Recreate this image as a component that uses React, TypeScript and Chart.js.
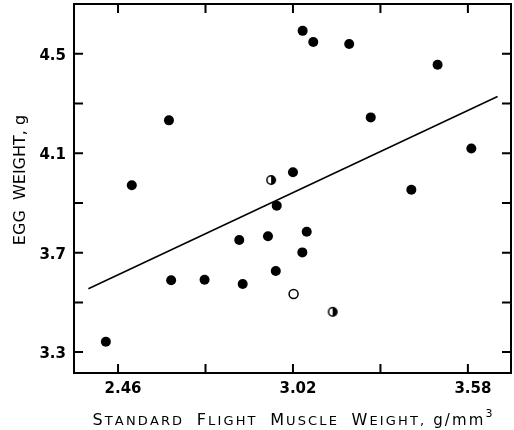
import React, { useEffect, useRef } from 'react';
import { Chart, registerables } from 'chart.js';

Chart.register(...registerables);

// Data
const filledX = [3.051, 3.085, 3.200, 3.483, 2.623, 3.269, 3.591, 2.504, 3.020, 3.399, 2.968, 2.848, 2.940, 3.064, 3.050, 2.965, 2.630, 2.737, 2.859, 2.421];
const filledY = [4.592, 4.547, 4.539, 4.456, 4.232, 4.244, 4.119, 3.971, 4.023, 3.953, 3.889, 3.751, 3.766, 3.784, 3.701, 3.626, 3.589, 3.591, 3.574, 3.342];
const halfX = [2.950, 3.147];
const halfY = [3.992, 3.462];
const openX = [3.022];
const openY = [3.534];
const fitX = [2.365, 3.675];
const fitY = [3.555, 4.328];

const xTicks = [2.46, 2.74, 3.02, 3.30, 3.58];
const xLabeled = [2.46, 3.02, 3.58];
const yTicks = [3.3, 3.5, 3.7, 3.9, 4.1, 4.3, 4.5];
const yLabeled = [3.3, 3.7, 4.1, 4.5];
const xRange = [2.319, 3.718];
const yRange = [3.216, 4.70];

const xTitleCaps = 'Standard  Flight  Muscle  Weight,';
const xTitleUnit = ' g/mm';
const xTitleSup = '3';
const yTitle = 'EGG  WEIGHT, g';

const FONT = '"DejaVu Sans", "Liberation Sans", Arial, sans-serif';

function makeHalf(): HTMLCanvasElement {
  const c = document.createElement('canvas');
  c.width = 12;
  c.height = 12;
  const g = c.getContext('2d')!;
  g.fillStyle = '#000';
  g.beginPath();
  g.arc(6, 6, 4.6, -Math.PI / 2, Math.PI / 2);
  g.closePath();
  g.fill();
  g.lineWidth = 1.5;
  g.strokeStyle = '#000';
  g.beginPath();
  g.arc(6, 6, 4.2, 0, Math.PI * 2);
  g.stroke();
  return c;
}

const framePlugin = {
  id: 'frameAndTitles',
  afterDraw(chart: any) {
    const { ctx, chartArea: a, scales } = chart;
    const xs = scales.x;
    const ys = scales.y;
    ctx.save();
    ctx.strokeStyle = '#000';
    ctx.lineWidth = 2;
    ctx.strokeRect(a.left, a.top, a.right - a.left, a.bottom - a.top);
    const L = 9;
    ctx.beginPath();
    xTicks.forEach((v) => {
      const px = xs.getPixelForValue(v);
      ctx.moveTo(px, a.bottom);
      ctx.lineTo(px, a.bottom - L);
      ctx.moveTo(px, a.top);
      ctx.lineTo(px, a.top + L);
    });
    yTicks.forEach((v) => {
      const py = ys.getPixelForValue(v);
      ctx.moveTo(a.left, py);
      ctx.lineTo(a.left + L, py);
      ctx.moveTo(a.right, py);
      ctx.lineTo(a.right - L, py);
    });
    ctx.stroke();

    // X title with small caps
    ctx.fillStyle = '#000';
    ctx.textBaseline = 'alphabetic';
    ctx.textAlign = 'left';
    const big = `16px ${FONT}`;
    const small = `13px ${FONT}`;
    const unit = `15px ${FONT}`;
    const sup = `11px ${FONT}`;
    type Seg = { ch: string; font: string; dy: number };
    const segs: Seg[] = [];
    for (const ch of xTitleCaps) {
      if (ch >= 'A' && ch <= 'Z') segs.push({ ch, font: big, dy: 0 });
      else segs.push({ ch: ch.toUpperCase(), font: small, dy: 0 });
    }
    for (const ch of xTitleUnit) segs.push({ ch, font: unit, dy: 0 });
    for (const ch of xTitleSup) segs.push({ ch, font: sup, dy: -8 });
    let natural = 0;
    const widths = segs.map((s) => {
      ctx.font = s.font;
      const w = ctx.measureText(s.ch).width;
      natural += w;
      return w;
    });
    const targetW = 400;
    const sp = (targetW - natural) / (segs.length - 1);
    let cx = (a.left + a.right) / 2 - targetW / 2;
    const baseY = 425;
    segs.forEach((s, i) => {
      ctx.font = s.font;
      ctx.fillText(s.ch, cx, baseY + s.dy);
      cx += widths[i] + sp;
    });

    // Y title
    ctx.save();
    ctx.translate(25, 180);
    ctx.rotate(-Math.PI / 2);
    ctx.textAlign = 'center';
    ctx.textBaseline = 'alphabetic';
    ctx.font = `16px ${FONT}`;
    ctx.fillText(yTitle, 0, 0);
    ctx.restore();

    ctx.restore();
  },
};

export default function App() {
  const ref = useRef<HTMLCanvasElement | null>(null);

  useEffect(() => {
    document.body.style.margin = '0';
    const canvas = ref.current!;
    const half = makeHalf();
    const pts = (xs: number[], ys: number[]) => xs.map((x, i) => ({ x, y: ys[i] }));
    const chart = new Chart(canvas, {
      type: 'scatter',
      data: {
        datasets: [
          {
            label: 'fit',
            data: pts(fitX, fitY),
            showLine: true,
            pointRadius: 0,
            borderColor: '#000',
            borderWidth: 1.5,
            backgroundColor: '#000',
          },
          {
            label: 'filled',
            data: pts(filledX, filledY),
            pointRadius: 5,
            pointBackgroundColor: '#000',
            pointBorderWidth: 0,
            pointBorderColor: '#000',
          },
          {
            label: 'half',
            data: pts(halfX, halfY),
            pointStyle: half as any,
            pointRadius: 5,
          },
          {
            label: 'open',
            data: pts(openX, openY),
            pointRadius: 4.5,
            pointBackgroundColor: '#fff',
            pointBorderColor: '#000',
            pointBorderWidth: 1.5,
          },
        ],
      },
      options: {
        animation: false,
        responsive: false,
        devicePixelRatio: 1,
        events: [],
        layout: { autoPadding: false, padding: { top: 4, right: 3, left: 0, bottom: 0 } },
        plugins: { legend: { display: false }, tooltip: { enabled: false } },
        scales: {
          x: {
            type: 'linear',
            min: xRange[0],
            max: xRange[1],
            grid: { display: false, drawTicks: false },
            border: { display: false },
            afterBuildTicks: (s: any) => {
              s.ticks = xLabeled.map((v) => ({ value: v }));
            },
            afterFit: (s: any) => {
              s.height = 57;
              s.paddingLeft = 0;
              s.paddingRight = 0;
            },
            ticks: {
              autoSkip: false,
              maxRotation: 0,
              padding: 7,
              labelOffset: 5,
              color: '#000',
              font: { family: FONT, size: 15, weight: 'bold' },
              callback: (v: any) => Number(v).toFixed(2),
            },
          },
          y: {
            type: 'linear',
            min: yRange[0],
            max: yRange[1],
            grid: { display: false, drawTicks: false },
            border: { display: false },
            afterBuildTicks: (s: any) => {
              s.ticks = yLabeled.map((v) => ({ value: v }));
            },
            afterFit: (s: any) => {
              s.width = 74;
              s.paddingTop = 0;
              s.paddingBottom = 0;
            },
            ticks: {
              autoSkip: false,
              padding: 8,
              labelOffset: 2,
              color: '#000',
              font: { family: FONT, size: 15, weight: 'bold' },
              callback: (v: any) => Number(v).toFixed(1),
            },
          },
        },
      },
      plugins: [framePlugin],
    });
    return () => chart.destroy();
  }, []);

  return (
    <div style={{ width: 514, height: 430, background: '#fff' }}>
      <canvas ref={ref} width={514} height={430} style={{ display: 'block', width: 514, height: 430 }} />
    </div>
  );
}
